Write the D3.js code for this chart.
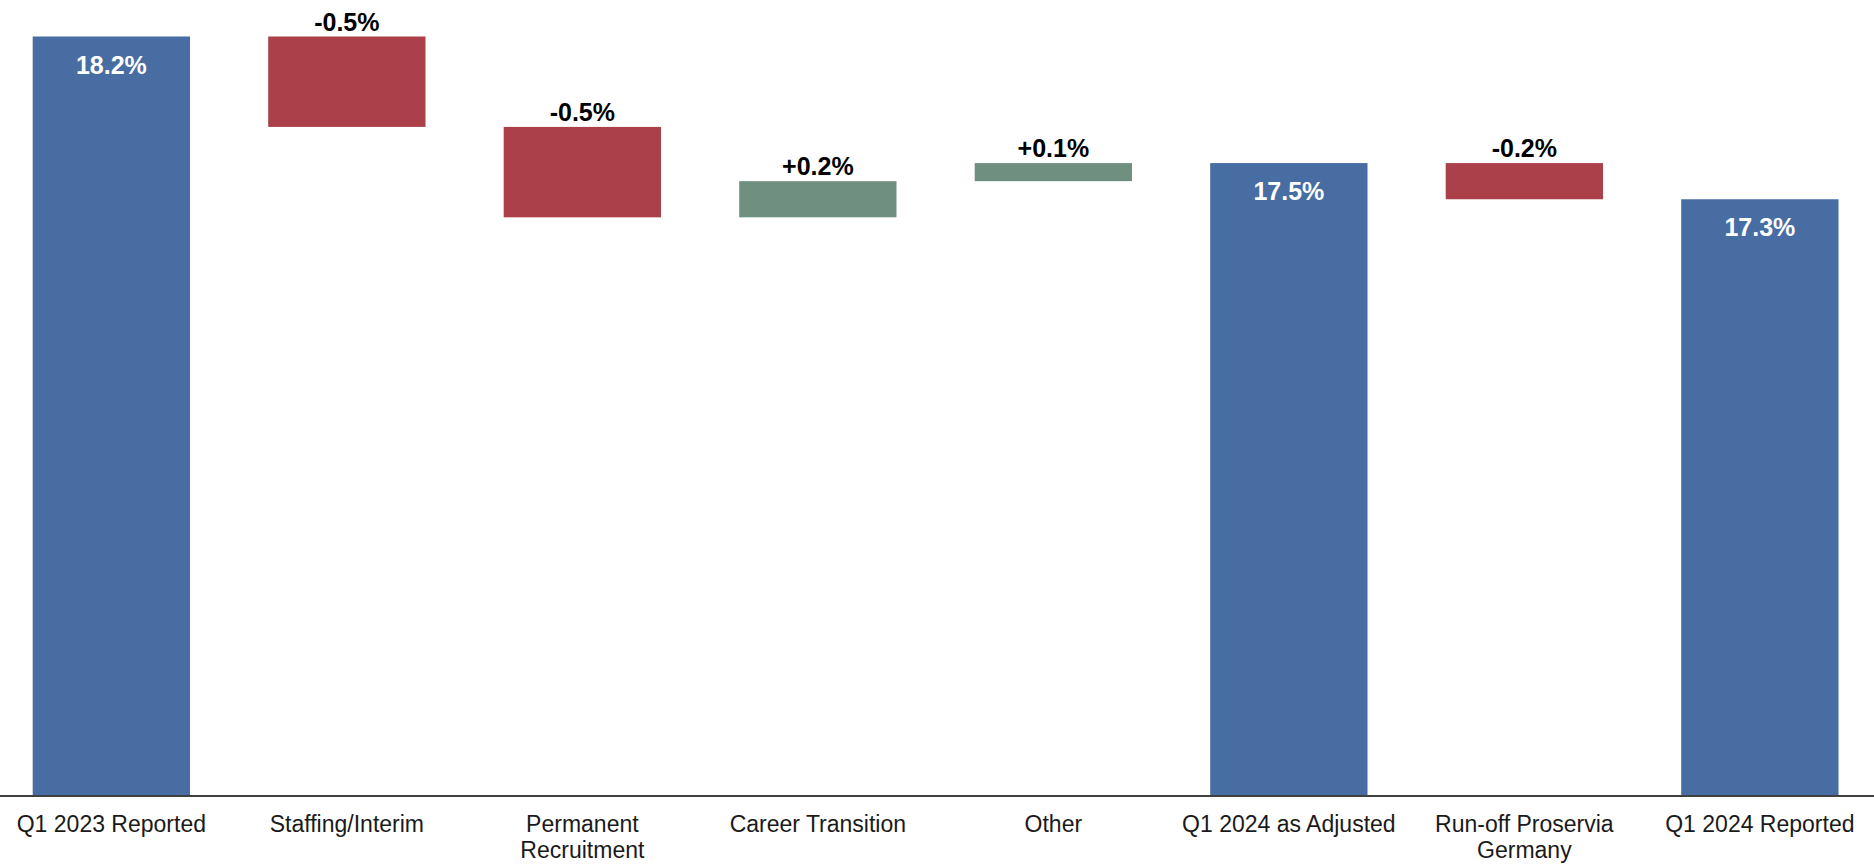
<!DOCTYPE html>
<html>
<head>
<meta charset="utf-8">
<script src="https://cdn.jsdelivr.net/npm/d3@7"></script>
<style>
  html, body { margin: 0; padding: 0; background: #ffffff; }
  svg { display: block; }
</style>
</head>
<body>
<svg id="chart" width="1874" height="865"></svg>
<script>
// ---- data ----
const categories = [
  "Q1 2023 Reported",
  "Staffing/Interim",
  "Permanent\nRecruitment",
  "Career Transition",
  "Other",
  "Q1 2024 as Adjusted",
  "Run-off Proservia\nGermany",
  "Q1 2024 Reported"
];
const values = [18.2, -0.5, -0.5, 0.2, 0.1, 17.5, -0.2, 17.3];
const isTotal = [true, false, false, false, false, true, false, true];
const yMin = 14;   // axis baseline value (truncated axis)
const yMax = 18.2;

// ---- layout ----
const W = 1874, H = 865;
const baseY = 796, topY = 36.5;
const svg = d3.select("#chart");

const x = d3.scaleBand()
  .domain(categories)
  .range([-6.4, 1877.6])
  .paddingInner(0.332)
  .paddingOuter(0.166);

const y = d3.scaleLinear().domain([yMin, yMax]).range([baseY, topY]);

const colors = { total: "#476DA3", neg: "#AB404A", pos: "#6F8F80" };

// build waterfall rows
let running = 0;
const rows = categories.map((c, i) => {
  const v = values[i];
  let lo, hi, kind;
  if (isTotal[i]) {
    lo = yMin; hi = v; kind = "total"; running = v;
  } else {
    const start = running, end = running + v;
    lo = Math.min(start, end); hi = Math.max(start, end);
    kind = v < 0 ? "neg" : "pos";
    running = end;
  }
  return { c, v, lo, hi, kind, total: isTotal[i] };
});

const fmtTotal = d => d3.format(".1f")(d) + "%";
const fmtDelta = d => (d > 0 ? "+" : "") + d3.format(".1f")(d).replace("−", "-") + "%";

// bars
svg.append("g").selectAll("rect").data(rows).join("rect")
  .attr("x", d => x(d.c))
  .attr("width", x.bandwidth())
  .attr("y", d => y(d.hi))
  .attr("height", d => y(d.lo) - y(d.hi))
  .attr("fill", d => colors[d.kind]);

// value labels
svg.append("g").selectAll("text").data(rows).join("text")
  .attr("x", d => x(d.c) + x.bandwidth() / 2)
  .attr("y", d => d.total ? y(d.hi) + 37 : y(d.hi) - 6)
  .attr("text-anchor", "middle")
  .attr("font-family", "'Liberation Sans', Arial, sans-serif")
  .attr("font-weight", "bold")
  .attr("font-size", 25)
  .attr("fill", d => d.total ? "#ffffff" : "#000000")
  .text(d => d.total ? fmtTotal(d.v) : fmtDelta(d.v));

// x axis
const axis = d3.axisBottom(x).tickSize(0).tickSizeOuter(0).tickFormat("");
const gx = svg.append("g").attr("transform", `translate(0,${baseY})`).call(axis);
gx.select(".domain").remove();
svg.append("line")
  .attr("x1", 0).attr("x2", W)
  .attr("y1", y(yMin)).attr("y2", y(yMin))
  .attr("stroke", "#404040").attr("stroke-width", 2);

gx.selectAll(".tick").each(function(d) {
  const t = d3.select(this).append("text")
    .attr("text-anchor", "middle")
    .attr("font-family", "'Liberation Sans', Arial, sans-serif")
    .attr("font-size", 23)
    .attr("fill", "#1a1a1a");
  d.split("\n").forEach((line, j) => {
    t.append("tspan").attr("x", 0).attr("y", 35.5 + j * 26.5).text(line);
  });
});
</script>
</body>
</html>
